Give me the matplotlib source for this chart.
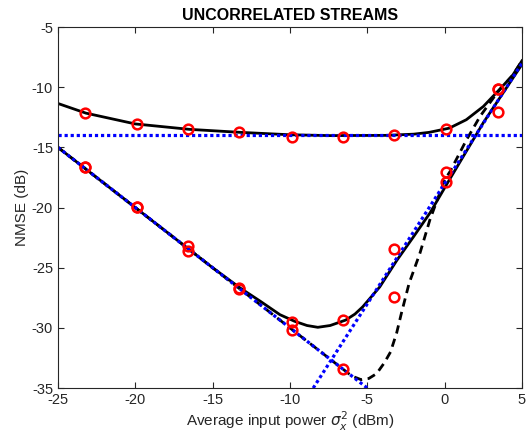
import numpy as np
import matplotlib.pyplot as plt

plt.rcParams['font.family'] = ['Liberation Sans', 'DejaVu Sans']
plt.rcParams['axes.unicode_minus'] = False

# curves
upper_x = [-25, -23.2, -20, -16.5, -13.2, -10, -7.4, -3.8, -2, -1, 0.3, 1.4, 2.5, 3.5, 4.4, 5]
upper_y = [-11.35, -12.15, -13.05, -13.5, -13.75, -13.95, -14.02, -14.0, -13.9, -13.75, -13.4, -12.7, -11.6, -10.25, -9.0, -7.8]

lower_x = [-25, -20, -15, -13.2, -11.9, -10.65, -9.7, -8.9, -8.2, -7.4, -6.4, -5.8, -5.3, -4.2, -3.1, -2.0, -0.95, 0.3, 2.5, 5]
lower_y = [-15, -20, -25, -26.7, -27.8, -28.9, -29.45, -29.8, -29.95, -29.8, -29.35, -28.85, -28.25, -26.6, -24.4, -22.4, -20.45, -17.7, -12.95, -8.1]

dash_x = [-25, -15, -6, -5.4, -4.9, -4.4, -3.9, -3.5, -3.1, -2.8, -2.3, -1.6, -0.95, 0.0, 0.35, 1.4, 2.3, 3.2, 3.6, 4.4, 5]
dash_y = [-15, -25, -34.0, -34.3, -34.2, -33.8, -32.9, -32.0, -30.4, -28.8, -26.3, -23.8, -21.0, -17.7, -17.0, -14.4, -12.4, -10.8, -10.15, -9.0, -7.8]

# asymptotes
floor_x, floor_y = [-25, 5], [-14, -14]
desc_x, desc_y = [-25, -5], [-15, -35]
rise_x, rise_y = [-8.5, 5], [-35, -8]

# simulated points
sim_x = [-23.25, -19.9, -16.6, -13.3, -9.9, -6.6, -3.25, 0.1, 3.45]
sim_upper = [-12.15, -13.06, -13.48, -13.73, -14.12, -14.14, -13.93, -13.51, -10.15]
sim_lower = [-16.6, -19.94, -23.17, -26.67, -29.47, -29.36, -23.45, -17.86, -12.05]
sim_dash = [-16.6, -19.94, -23.59, -26.8, -30.16, -33.43, -27.44, -17.03, -10.15]

fig = plt.figure(figsize=(5.27, 4.40), dpi=100)
ax = fig.add_axes([0.110, 0.118, 0.8805, 0.8205])

ax.plot(upper_x, upper_y, color='k', lw=2)
ax.plot(lower_x, lower_y, color='k', lw=2)
ax.plot(dash_x, dash_y, color='k', lw=2, linestyle=(0, (3, 2)))
dots = (0, (1, 0.9))
ax.plot(floor_x, floor_y, color='b', lw=2.3, linestyle=dots)
ax.plot(desc_x, desc_y, color='b', lw=2.3, linestyle=dots)
ax.plot(rise_x, rise_y, color='b', lw=2.3, linestyle=dots)

for s in [sim_upper, sim_lower, sim_dash]:
    ax.plot(sim_x, s, 'o', mfc='none', mec='r', ms=7, mew=1.8, clip_on=False)

ax.set_xlim(-25, 5)
ax.set_ylim(-35, -5)
ax.set_xticks(np.arange(-25, 6, 5))
ax.set_yticks(np.arange(-35, -4, 5))
ax.tick_params(direction='in', top=True, right=True, labelsize=10.5, colors='#262626', length=4)
for sp in ax.spines.values():
    sp.set_color('#262626')
    sp.set_linewidth(0.8)

ax.set_title('UNCORRELATED STREAMS', fontsize=11.5, fontweight='bold', pad=5)
ax.set_xlabel(r'Average input power $\sigma_x^2$ (dBm)', fontsize=11, color='#262626', labelpad=2)
ax.set_ylabel('NMSE (dB)', fontsize=11, color='#262626', labelpad=2)

plt.savefig('out.png', dpi=100)
